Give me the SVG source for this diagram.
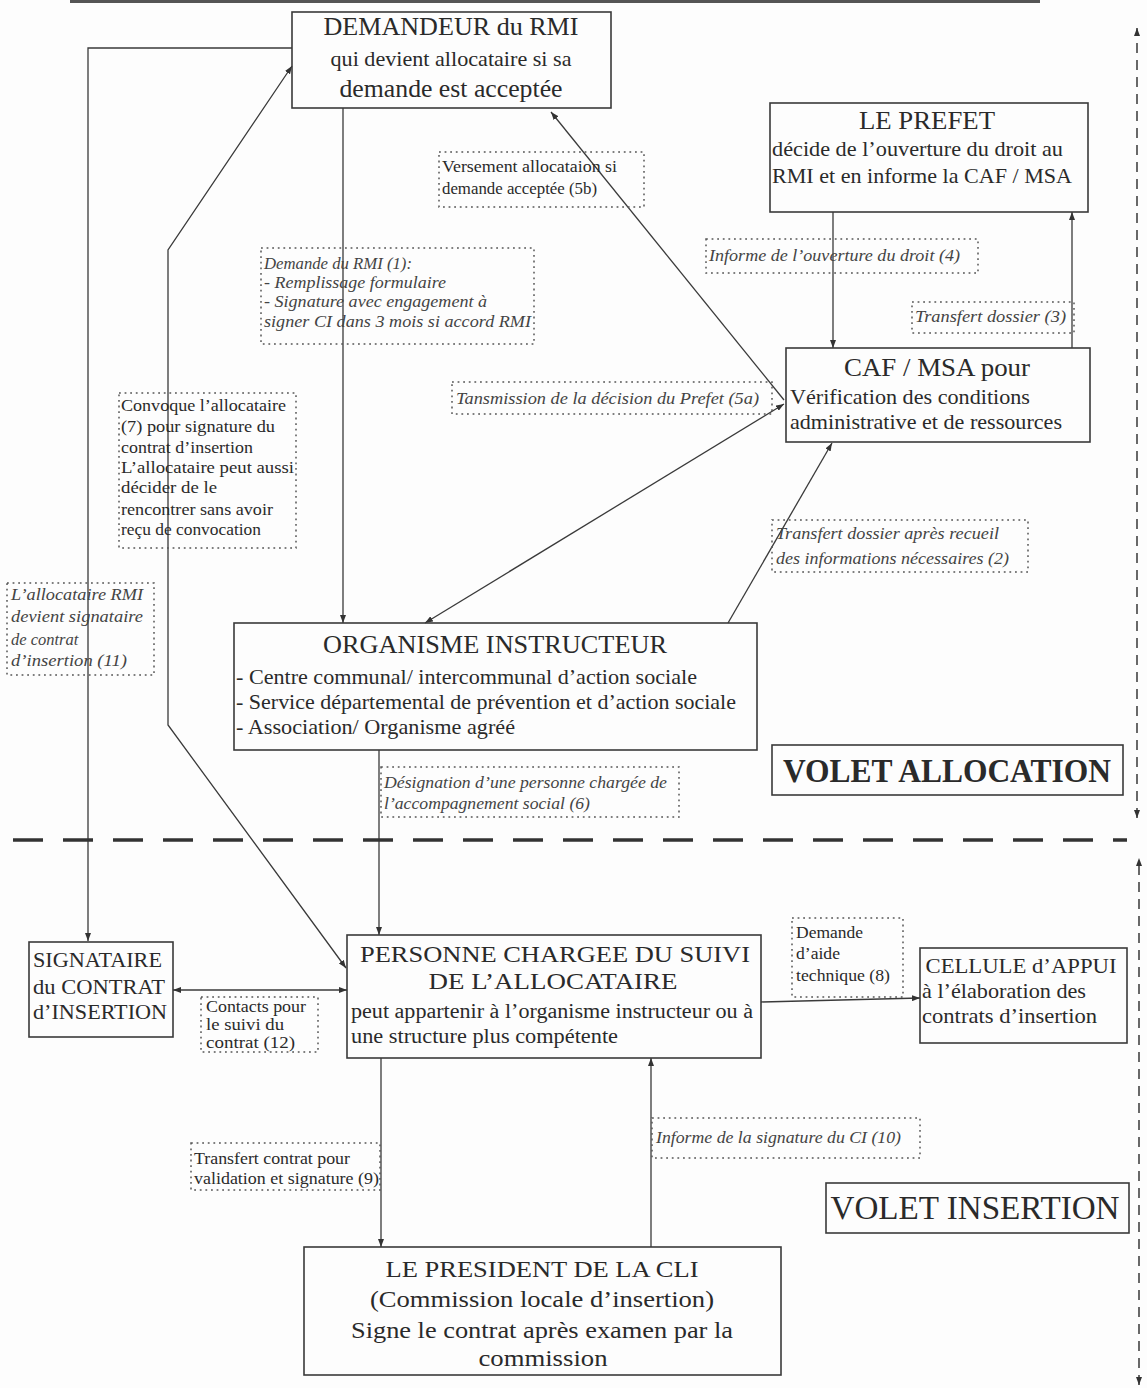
<svg xmlns="http://www.w3.org/2000/svg" width="1147" height="1388" viewBox="0 0 1147 1388" font-family="'Liberation Serif','Times New Roman',serif">
<style>
.box{fill:none;stroke:#3a3a3a;stroke-width:1.6}
.lbl{fill:none;stroke:#555;stroke-width:1.5;stroke-dasharray:1.8 3.8}
.ln{fill:none;stroke:#3a3a3a;stroke-width:1.3}
.sep{fill:none;stroke:#333;stroke-width:3.5;stroke-dasharray:30 20}
.vd{fill:none;stroke:#444;stroke-width:1.6;stroke-dasharray:10 7}
text{font-family:"Liberation Serif","Times New Roman",serif;fill:#2a2a2a}
.it{font-style:italic;fill:#444}
.l{font-size:16.5px}
.m{text-anchor:middle}
</style>
<defs>
<marker id="ah" viewBox="0 0 8 6" refX="8" refY="3" markerWidth="8" markerHeight="6" markerUnits="userSpaceOnUse" orient="auto-start-reverse">
<path d="M0,0 L8,3 L0,6 z" fill="#333"/>
</marker>
</defs>
<rect x="0" y="0" width="1147" height="1388" fill="#fdfdfd"/>
<line x1="70" y1="1.5" x2="1040" y2="1.5" stroke="#555" stroke-width="3"/>

<g id="connectors">
<polyline class="ln" points="292,48 88,48 88,941" marker-end="url(#ah)"/>
<polyline class="ln" points="292,66 168,250 168,725 346,968" marker-start="url(#ah)" marker-end="url(#ah)"/>
<line class="ln" x1="343" y1="108" x2="343" y2="623" marker-end="url(#ah)"/>
<line class="ln" x1="784" y1="400" x2="551" y2="112" marker-end="url(#ah)"/>
<line class="ln" x1="425" y1="623" x2="784" y2="404" marker-start="url(#ah)" marker-end="url(#ah)"/>
<line class="ln" x1="728" y1="623" x2="832" y2="443" marker-end="url(#ah)"/>
<line class="ln" x1="833" y1="212" x2="833" y2="348" marker-end="url(#ah)"/>
<line class="ln" x1="1072" y1="348" x2="1072" y2="212" marker-end="url(#ah)"/>
<line class="ln" x1="379" y1="750" x2="379" y2="935" marker-end="url(#ah)"/>
<line class="ln" x1="173" y1="990" x2="347" y2="990" marker-start="url(#ah)" marker-end="url(#ah)"/>
<line class="ln" x1="761" y1="1002" x2="920" y2="998" marker-end="url(#ah)"/>
<line class="ln" x1="381" y1="1058" x2="381" y2="1247" marker-end="url(#ah)"/>
<line class="ln" x1="651" y1="1247" x2="651" y2="1058" marker-end="url(#ah)"/>
<line class="sep" x1="13" y1="840" x2="1127" y2="840"/>
<line class="vd" x1="1137" y1="818" x2="1137" y2="28" marker-start="url(#ah)" marker-end="url(#ah)"/>
<line class="vd" x1="1139" y1="1385" x2="1139" y2="858" marker-start="url(#ah)" marker-end="url(#ah)"/>
</g>

<g id="demandeur">
<rect class="box" x="292" y="12" width="319" height="96"/>
<text class="m" x="451" y="35" font-size="25" textLength="255" lengthAdjust="spacingAndGlyphs">DEMANDEUR du RMI</text>
<text class="m" x="451" y="66" font-size="21" textLength="241" lengthAdjust="spacingAndGlyphs">qui devient allocataire si sa</text>
<text class="m" x="451" y="97" font-size="25" textLength="223" lengthAdjust="spacingAndGlyphs">demande est acceptée</text>
</g>

<g id="prefet">
<rect class="box" x="770" y="103" width="318" height="109"/>
<text class="m" x="927" y="129" font-size="26" textLength="136" lengthAdjust="spacingAndGlyphs">LE PREFET</text>
<text x="772" y="156" font-size="21" textLength="291" lengthAdjust="spacingAndGlyphs">décide de l’ouverture du droit au</text>
<text x="772" y="183" font-size="21" textLength="300" lengthAdjust="spacingAndGlyphs">RMI et en informe la CAF / MSA</text>
</g>

<g id="caf">
<rect class="box" x="786" y="348" width="304" height="94"/>
<text class="m" x="937" y="376" font-size="26" textLength="186" lengthAdjust="spacingAndGlyphs">CAF / MSA pour</text>
<text x="790" y="404" font-size="21" textLength="240" lengthAdjust="spacingAndGlyphs">Vérification des conditions</text>
<text x="790" y="429" font-size="21" textLength="272" lengthAdjust="spacingAndGlyphs">administrative et de ressources</text>
</g>

<g id="organisme">
<rect class="box" x="234" y="623" width="523" height="127"/>
<text class="m" x="495" y="653" font-size="26" textLength="344" lengthAdjust="spacingAndGlyphs">ORGANISME INSTRUCTEUR</text>
<text x="236" y="684" font-size="21" textLength="461" lengthAdjust="spacingAndGlyphs">- Centre communal/ intercommunal d’action sociale</text>
<text x="236" y="709" font-size="21" textLength="500" lengthAdjust="spacingAndGlyphs">- Service départemental de prévention et d’action sociale</text>
<text x="236" y="734" font-size="21" textLength="279" lengthAdjust="spacingAndGlyphs">- Association/ Organisme agréé</text>
</g>

<g id="signataire">
<rect class="box" x="29" y="942" width="144" height="95"/>
<text x="33" y="967" font-size="22" textLength="129" lengthAdjust="spacingAndGlyphs">SIGNATAIRE</text>
<text x="33" y="994" font-size="22" textLength="132" lengthAdjust="spacingAndGlyphs">du CONTRAT</text>
<text x="33" y="1019" font-size="22" textLength="134" lengthAdjust="spacingAndGlyphs">d’INSERTION</text>
</g>

<g id="personne">
<rect class="box" x="347" y="935" width="414" height="123"/>
<text class="m" x="555" y="962" font-size="24" textLength="390" lengthAdjust="spacingAndGlyphs">PERSONNE CHARGEE DU SUIVI</text>
<text class="m" x="553" y="989" font-size="24" textLength="249" lengthAdjust="spacingAndGlyphs">DE L’ALLOCATAIRE</text>
<text x="351" y="1018" font-size="20.5" textLength="402" lengthAdjust="spacingAndGlyphs">peut appartenir à l’organisme instructeur ou à</text>
<text x="351" y="1043" font-size="20.5" textLength="267" lengthAdjust="spacingAndGlyphs">une structure plus compétente</text>
</g>

<g id="cellule">
<rect class="box" x="920" y="948" width="207" height="95"/>
<text class="m" x="1021" y="973" font-size="22" textLength="191" lengthAdjust="spacingAndGlyphs">CELLULE d’APPUI</text>
<text x="922" y="998" font-size="21" textLength="164" lengthAdjust="spacingAndGlyphs">à l’élaboration des</text>
<text x="922" y="1023" font-size="21" textLength="175" lengthAdjust="spacingAndGlyphs">contrats d’insertion</text>
</g>

<g id="president">
<rect class="box" x="304" y="1247" width="477" height="128"/>
<text class="m" x="542" y="1277" font-size="24" textLength="313" lengthAdjust="spacingAndGlyphs">LE PRESIDENT DE LA CLI</text>
<text class="m" x="542" y="1307" font-size="24" textLength="344" lengthAdjust="spacingAndGlyphs">(Commission locale d’insertion)</text>
<text class="m" x="542" y="1338" font-size="24" textLength="382" lengthAdjust="spacingAndGlyphs">Signe le contrat après examen par la</text>
<text class="m" x="543" y="1366" font-size="24" textLength="129" lengthAdjust="spacingAndGlyphs">commission</text>
</g>

<g id="volet-allocation">
<rect class="box" x="772" y="745" width="351" height="50"/>
<text class="m" x="947" y="782" font-size="33" font-weight="bold" textLength="328" lengthAdjust="spacingAndGlyphs">VOLET ALLOCATION</text>
</g>

<g id="volet-insertion">
<rect class="box" x="826" y="1183" width="303" height="50"/>
<text class="m" x="975" y="1219" font-size="33" textLength="289" lengthAdjust="spacingAndGlyphs">VOLET INSERTION</text>
</g>

<g id="label-5b">
<rect class="lbl" x="439" y="152" width="205" height="55"/>
<text class="l" x="442" y="172" textLength="175" lengthAdjust="spacingAndGlyphs">Versement allocataion si</text>
<text class="l" x="442" y="194" textLength="155" lengthAdjust="spacingAndGlyphs">demande acceptée (5b)</text>
</g>

<g id="label-1">
<rect class="lbl" x="261" y="248" width="273" height="96"/>
<text class="l it" x="264" y="269" textLength="148" lengthAdjust="spacingAndGlyphs">Demande du RMI (1):</text>
<text class="l it" x="264" y="288" textLength="182" lengthAdjust="spacingAndGlyphs">- Remplissage formulaire</text>
<text class="l it" x="264" y="307" textLength="223" lengthAdjust="spacingAndGlyphs">- Signature avec engagement à</text>
<text class="l it" x="264" y="327" textLength="267" lengthAdjust="spacingAndGlyphs">signer CI dans 3 mois si accord RMI</text>
</g>

<g id="label-4">
<rect class="lbl" x="706" y="239" width="272" height="34"/>
<text class="l it" x="709" y="261" textLength="251" lengthAdjust="spacingAndGlyphs">Informe de l’ouverture du droit (4)</text>
</g>

<g id="label-3">
<rect class="lbl" x="912" y="302" width="162" height="31"/>
<text class="l it" x="915" y="322" textLength="151" lengthAdjust="spacingAndGlyphs">Transfert dossier (3)</text>
</g>

<g id="label-5a">
<rect class="lbl" x="452" y="382" width="320" height="32"/>
<text class="l it" x="456" y="404" textLength="303" lengthAdjust="spacingAndGlyphs">Tansmission de la décision du Prefet (5a)</text>
</g>

<g id="label-7">
<rect class="lbl" x="119" y="393" width="177" height="155"/>
<text x="121" y="411" font-size="17" textLength="165" lengthAdjust="spacingAndGlyphs">Convoque l’allocataire</text>
<text x="121" y="432" font-size="17" textLength="154" lengthAdjust="spacingAndGlyphs">(7) pour signature du</text>
<text x="121" y="453" font-size="17" textLength="132" lengthAdjust="spacingAndGlyphs">contrat d’insertion</text>
<text x="121" y="473" font-size="17" textLength="173" lengthAdjust="spacingAndGlyphs">L’allocataire peut aussi</text>
<text x="121" y="493" font-size="17" textLength="96" lengthAdjust="spacingAndGlyphs">décider de le</text>
<text x="121" y="515" font-size="17" textLength="152" lengthAdjust="spacingAndGlyphs">rencontrer sans avoir</text>
<text x="121" y="535" font-size="17" textLength="140" lengthAdjust="spacingAndGlyphs">reçu de convocation</text>
</g>

<g id="label-11">
<rect class="lbl" x="7" y="583" width="147" height="92"/>
<text class="l it" x="11" y="600" textLength="132" lengthAdjust="spacingAndGlyphs">L’allocataire RMI</text>
<text class="l it" x="11" y="622" textLength="132" lengthAdjust="spacingAndGlyphs">devient signataire</text>
<text class="l it" x="11" y="645">de contrat</text>
<text class="l it" x="11" y="666" textLength="116" lengthAdjust="spacingAndGlyphs">d’insertion (11)</text>
</g>

<g id="label-2">
<rect class="lbl" x="772" y="520" width="256" height="52"/>
<text class="l it" x="776" y="539" textLength="223" lengthAdjust="spacingAndGlyphs">Transfert dossier après recueil</text>
<text class="l it" x="776" y="564" textLength="233" lengthAdjust="spacingAndGlyphs">des informations nécessaires (2)</text>
</g>

<g id="label-6">
<rect class="lbl" x="381" y="767" width="298" height="50"/>
<text class="l it" x="384" y="788" textLength="283" lengthAdjust="spacingAndGlyphs">Désignation d’une personne chargée de</text>
<text class="l it" x="384" y="809" textLength="206" lengthAdjust="spacingAndGlyphs">l’accompagnement social (6)</text>
</g>

<g id="label-12">
<rect class="lbl" x="201" y="997" width="117" height="55"/>
<text class="l" x="206" y="1012" textLength="100" lengthAdjust="spacingAndGlyphs">Contacts pour</text>
<text class="l" x="206" y="1030" textLength="78" lengthAdjust="spacingAndGlyphs">le suivi du</text>
<text class="l" x="206" y="1048" textLength="89" lengthAdjust="spacingAndGlyphs">contrat (12)</text>
</g>

<g id="label-8">
<rect class="lbl" x="792" y="918" width="111" height="79"/>
<text class="l" x="796" y="938" textLength="67" lengthAdjust="spacingAndGlyphs">Demande</text>
<text class="l" x="796" y="959" textLength="44" lengthAdjust="spacingAndGlyphs">d’aide</text>
<text class="l" x="796" y="981" textLength="94" lengthAdjust="spacingAndGlyphs">technique (8)</text>
</g>

<g id="label-9">
<rect class="lbl" x="191" y="1143" width="189" height="47"/>
<text class="l" x="194" y="1164" textLength="156" lengthAdjust="spacingAndGlyphs">Transfert contrat pour</text>
<text class="l" x="194" y="1184" textLength="185" lengthAdjust="spacingAndGlyphs">validation et signature (9)</text>
</g>

<g id="label-10">
<rect class="lbl" x="652" y="1118" width="268" height="40"/>
<text class="l it" x="656" y="1143" textLength="245" lengthAdjust="spacingAndGlyphs">Informe de la signature du CI (10)</text>
</g>
</svg>
